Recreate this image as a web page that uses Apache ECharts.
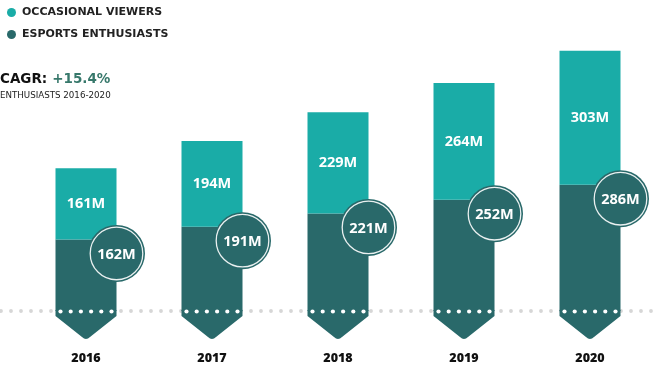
<!DOCTYPE html>
<html>
<head>
<meta charset="utf-8">
<script src="https://cdn.jsdelivr.net/npm/echarts@6/dist/echarts.min.js"></script>
<style>
html,body{margin:0;padding:0;background:#fff;}
#chart{width:660px;height:372px;}
</style>
</head>
<body>
<div id="chart"></div>
<script>
// ---- data ----
var years = ['2016', '2017', '2018', '2019', '2020'];
var enthusiasts = [162, 191, 221, 252, 286];
var occasional = [161, 194, 229, 264, 303];
var seriesNames = ['OCCASIONAL VIEWERS', 'ESPORTS ENTHUSIASTS'];
var cagrValue = '+15.4%';
var cagrSub = 'ENTHUSIASTS 2016-2020';

var TEAL = '#1aaca7';
var DARK = '#29696a';
var FONT = '"Open Sans", Lato, sans-serif';
var WIDE = '"DejaVu Sans", sans-serif';
var BARW = 61;

var chart = echarts.init(document.getElementById('chart'));

function baseLine(params, api) {
  if (params.dataIndex !== 0) return null;
  var y = api.coord([0, 0])[1];
  return {
    type: 'line',
    shape: { x1: 1, y1: y, x2: api.getWidth(), y2: y },
    style: { stroke: '#d6d6d6', lineWidth: 3.8, lineCap: 'round', lineDash: [0, 10] },
    silent: true
  };
}

function decorations(params, api) {
  var i = params.dataIndex;
  var base = api.coord([i, 0]);
  var top = api.coord([i, api.value(1)]);
  var cx = base[0], by = base[1];
  var half = BARW / 2;
  var l = cx - half, r = cx + half;
  var tipY = by + 29;
  var path = 'M' + l + ' ' + (by - 1) + ' L' + r + ' ' + (by - 1) +
    ' L' + r + ' ' + (by + 5) + ' L' + (cx + 4) + ' ' + (tipY - 3) +
    ' Q' + cx + ' ' + (tipY + 1) + ' ' + (cx - 4) + ' ' + (tipY - 3) +
    ' L' + l + ' ' + (by + 5) + ' Z';
  var children = [{
    type: 'path',
    shape: { pathData: path },
    style: { fill: DARK }
  }];
  for (var k = 0; k < 6; k++) {
    children.push({
      type: 'circle',
      shape: { cx: l + 5 + k * (BARW - 10) / 5, cy: by + 0.5, r: 2.1 },
      style: { fill: '#ffffff' }
    });
  }
  var ccx = r, ccy = top[1] + 14;
  children.push({
    type: 'circle',
    shape: { cx: ccx, cy: ccy, r: 28.5 },
    style: { fill: DARK }
  });
  children.push({
    type: 'circle',
    shape: { cx: ccx, cy: ccy, r: 26.3 },
    style: { fill: null, stroke: 'rgba(255,255,255,0.9)', lineWidth: 1.3 }
  });
  children.push({
    type: 'text',
    style: {
      x: ccx, y: ccy + 1, text: api.value(1) + 'M',
      fill: '#ffffff', font: 'bold 14.5px ' + FONT,
      align: 'center', verticalAlign: 'middle'
    }
  });
  return { type: 'group', children: children };
}

chart.setOption({
  backgroundColor: '#ffffff',
  animation: false,
  color: [TEAL, DARK],
  title: {
    left: 0, top: 70,
    text: '{a|CAGR:} {b|' + cagrValue + '}',
    textStyle: {
      rich: {
        a: { fontFamily: WIDE, fontWeight: 'bold', fontSize: 13.5, color: '#111111' },
        b: { fontFamily: WIDE, fontWeight: 'bold', fontSize: 13.5, color: '#37786b' }
      }
    },
    subtext: cagrSub,
    itemGap: 3,
    padding: [0, 0, 0, 0],
    subtextStyle: { fontFamily: WIDE, fontSize: 8.7, color: '#222222' }
  },
  legend: {
    orient: 'vertical',
    left: 2, top: 2,
    itemWidth: 9, itemHeight: 9, itemGap: 11,
    icon: 'circle',
    data: seriesNames,
    textStyle: { fontFamily: WIDE, fontWeight: 'bold', fontSize: 11, color: '#222222', padding: [0, 0, 0, 1] }
  },
  grid: { left: 23, right: 7, top: 46, bottom: 61, containLabel: false },
  xAxis: {
    type: 'category',
    data: years,
    axisLine: { show: false },
    axisTick: { show: false },
    axisLabel: { margin: 41, fontFamily: FONT, fontWeight: 800, fontSize: 12.5, color: '#111111' }
  },
  yAxis: { type: 'value', min: 0, max: 600, show: false, splitLine: { show: false } },
  series: [
    {
      type: 'custom', name: 'base', z: 1, silent: true,
      renderItem: baseLine,
      data: years.map(function (y, i) { return [i, 0]; })
    },
    {
      name: seriesNames[1], type: 'bar', stack: 'a', barWidth: BARW, z: 2,
      itemStyle: { color: DARK },
      data: enthusiasts
    },
    {
      name: seriesNames[0], type: 'bar', stack: 'a', barWidth: BARW, z: 2,
      itemStyle: { color: TEAL },
      label: {
        show: true, position: 'inside', formatter: '{c}M',
        color: '#ffffff', fontFamily: FONT, fontWeight: 'bold', fontSize: 14.5
      },
      data: occasional
    },
    {
      type: 'custom', name: 'deco', z: 3, silent: true,
      renderItem: decorations,
      data: years.map(function (y, i) { return [i, enthusiasts[i]]; })
    }
  ]
});
</script>
</body>
</html>
